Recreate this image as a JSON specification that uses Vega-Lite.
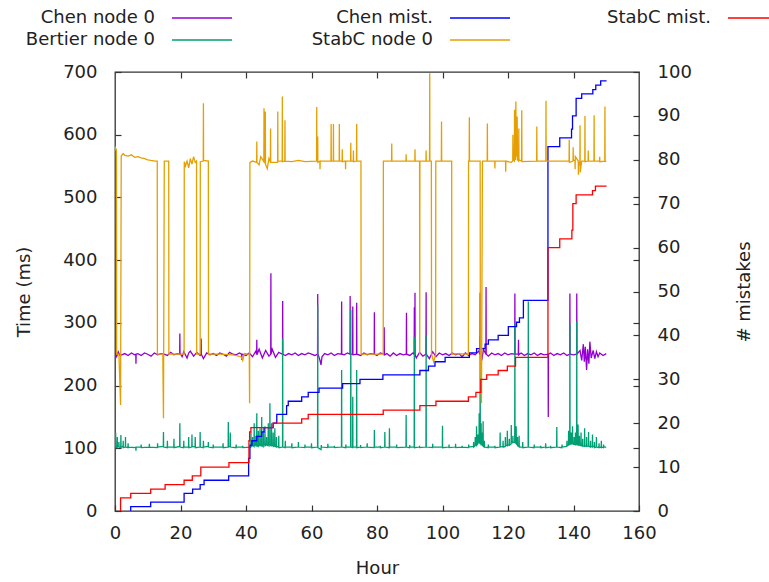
{
"$schema":"https://vega.github.io/schema/vega-lite/v6.json",
"autosize":{"type":"none"},
"padding":{"left":115,"top":72,"right":130,"bottom":71},
"width":524,"height":439,
"background":"white",
"config":{"font":"DejaVu Sans","view":{"stroke":"#333","strokeWidth":1.3},
"axis":{"labelFontSize":18,"titleFontSize":18,"labelColor":"#222","titleColor":"#222","titleFontWeight":"normal","tickColor":"#333","tickWidth":1.2,"domain":false,"grid":false,"tickSize":-6,"labelPadding":24,"labelFlush":false}},
"datasets":{
"chen":[{"h":0,"v":252},{"h":0.5,"v":246},{"h":1,"v":254},{"h":1.5,"v":248},{"h":2,"v":249},{"h":3,"v":251},{"h":4,"v":248},{"h":5,"v":252},{"h":6,"v":249},{"h":6.35,"v":250},{"h":6.4,"v":235},{"h":6.45,"v":250},{"h":7,"v":251},{"h":8,"v":248},{"h":9,"v":252},{"h":10,"v":250},{"h":11,"v":247},{"h":12,"v":252},{"h":13,"v":249},{"h":14,"v":251},{"h":15,"v":250},{"h":16,"v":248},{"h":17,"v":253},{"h":18,"v":249},{"h":19,"v":251},{"h":19.75,"v":250},{"h":19.8,"v":283},{"h":19.85,"v":252},{"h":20.5,"v":246},{"h":21,"v":254},{"h":22,"v":244},{"h":22.5,"v":252},{"h":23,"v":255},{"h":24,"v":247},{"h":25,"v":253},{"h":26,"v":248},{"h":26.25,"v":250},{"h":26.3,"v":275},{"h":26.35,"v":250},{"h":27,"v":243},{"h":28,"v":252},{"h":29,"v":249},{"h":30,"v":251},{"h":31,"v":248},{"h":32,"v":252},{"h":33,"v":250},{"h":34,"v":247},{"h":35,"v":253},{"h":36,"v":250},{"h":37,"v":249},{"h":38,"v":252},{"h":38.65,"v":250},{"h":38.7,"v":241},{"h":38.75,"v":250},{"h":40,"v":248},{"h":41,"v":252},{"h":42,"v":246},{"h":43,"v":255},{"h":43.25,"v":250},{"h":43.3,"v":273},{"h":43.35,"v":249},{"h":44,"v":258},{"h":45,"v":244},{"h":46,"v":256},{"h":47,"v":247},{"h":47.55,"v":250},{"h":47.6,"v":379},{"h":47.65,"v":250},{"h":48,"v":258},{"h":49,"v":245},{"h":50,"v":253},{"h":51.15,"v":250},{"h":51.2,"v":335},{"h":51.25,"v":250},{"h":52,"v":248},{"h":53,"v":251},{"h":54,"v":249},{"h":55,"v":252},{"h":56,"v":248},{"h":57,"v":251},{"h":58,"v":249},{"h":59,"v":252},{"h":60,"v":250},{"h":61,"v":248},{"h":61.85,"v":250},{"h":61.9,"v":346},{"h":61.95,"v":251},{"h":62.6,"v":240},{"h":62.9,"v":233},{"h":63.2,"v":246},{"h":64,"v":251},{"h":65,"v":249},{"h":66,"v":252},{"h":67,"v":248},{"h":68,"v":251},{"h":69.15,"v":250},{"h":69.2,"v":334},{"h":69.25,"v":250},{"h":70,"v":249},{"h":71,"v":252},{"h":71.75,"v":250},{"h":71.8,"v":343},{"h":71.85,"v":250},{"h":72.55,"v":250},{"h":72.6,"v":326},{"h":72.65,"v":249},{"h":73.75,"v":250},{"h":73.8,"v":332},{"h":73.85,"v":250},{"h":75,"v":248},{"h":76,"v":252},{"h":77,"v":249},{"h":78,"v":251},{"h":79.15,"v":250},{"h":79.2,"v":317},{"h":79.25,"v":250},{"h":80,"v":248},{"h":81,"v":252},{"h":82.15,"v":250},{"h":82.2,"v":293},{"h":82.25,"v":249},{"h":83,"v":251},{"h":84,"v":247},{"h":85,"v":252},{"h":86,"v":248},{"h":87,"v":251},{"h":88,"v":249},{"h":88.95,"v":250},{"h":89,"v":316},{"h":89.05,"v":250},{"h":90,"v":248},{"h":91,"v":252},{"h":91.35,"v":250},{"h":91.4,"v":325},{"h":91.45,"v":250},{"h":91.55,"v":250},{"h":91.6,"v":348},{"h":91.65,"v":249},{"h":92,"v":244},{"h":93,"v":253},{"h":94,"v":247},{"h":94.95,"v":250},{"h":95,"v":349},{"h":95.05,"v":250},{"h":96,"v":243},{"h":97,"v":254},{"h":98,"v":246},{"h":99,"v":252},{"h":100,"v":249},{"h":101,"v":251},{"h":102,"v":248},{"h":103,"v":252},{"h":104,"v":249},{"h":105,"v":251},{"h":106,"v":246},{"h":107,"v":252},{"h":108,"v":248},{"h":109,"v":251},{"h":110,"v":249},{"h":111,"v":255},{"h":111.45,"v":250},{"h":111.5,"v":348},{"h":111.55,"v":250},{"h":112,"v":240},{"h":112.5,"v":258},{"h":113.25,"v":250},{"h":113.3,"v":357},{"h":113.35,"v":250},{"h":114,"v":247},{"h":115,"v":252},{"h":116,"v":249},{"h":117,"v":251},{"h":118,"v":248},{"h":119,"v":252},{"h":120,"v":249},{"h":121,"v":251},{"h":122.05,"v":250},{"h":122.1,"v":347},{"h":122.15,"v":250},{"h":123.15,"v":250},{"h":123.2,"v":273},{"h":123.25,"v":249},{"h":124,"v":252},{"h":125,"v":248},{"h":126,"v":251},{"h":127,"v":249},{"h":128,"v":252},{"h":129,"v":248},{"h":130,"v":251},{"h":131,"v":249},{"h":132.25,"v":250},{"h":132.3,"v":150},{"h":132.35,"v":250},{"h":133,"v":252},{"h":134,"v":248},{"h":135,"v":251},{"h":136,"v":249},{"h":137,"v":252},{"h":138,"v":248},{"h":138.85,"v":250},{"h":138.9,"v":347},{"h":138.95,"v":250},{"h":140,"v":249},{"h":140.95,"v":250},{"h":141,"v":347},{"h":141.05,"v":250},{"h":142,"v":256},{"h":142.5,"v":240},{"h":143,"v":266},{"h":143.3,"v":238},{"h":143.6,"v":262},{"h":144,"v":225},{"h":144.3,"v":258},{"h":144.7,"v":235},{"h":145,"v":270},{"h":145.4,"v":244},{"h":146,"v":256},{"h":146.5,"v":243},{"h":147,"v":254},{"h":147.5,"v":246},{"h":148,"v":252},{"h":149,"v":248},{"h":150,"v":251}],
"bertier":[{"h":0,"v":102},{"h":0.2,"v":125},{"h":0.25,"v":102},{"h":0.65,"v":101},{"h":0.7,"v":118},{"h":0.75,"v":102},{"h":1.15,"v":103},{"h":1.2,"v":110},{"h":1.25,"v":102},{"h":1.75,"v":101},{"h":1.8,"v":121},{"h":1.85,"v":102},{"h":2.45,"v":103},{"h":2.5,"v":112},{"h":2.55,"v":101},{"h":3.15,"v":102},{"h":3.2,"v":118},{"h":3.25,"v":102},{"h":3.95,"v":101},{"h":4,"v":108},{"h":4.05,"v":102},{"h":6.35,"v":101},{"h":6.4,"v":96},{"h":6.45,"v":102},{"h":7.95,"v":102},{"h":8,"v":106},{"h":8.05,"v":101},{"h":10.45,"v":102},{"h":10.5,"v":107},{"h":10.55,"v":102},{"h":12.95,"v":101},{"h":13,"v":108},{"h":13.05,"v":102},{"h":14.75,"v":103},{"h":14.8,"v":126},{"h":14.85,"v":102},{"h":15.95,"v":101},{"h":16,"v":112},{"h":16.05,"v":102},{"h":17.95,"v":102},{"h":18,"v":115},{"h":18.05,"v":101},{"h":19.75,"v":103},{"h":19.8,"v":140},{"h":19.85,"v":102},{"h":20.95,"v":101},{"h":21,"v":112},{"h":21.05,"v":102},{"h":22.45,"v":102},{"h":22.5,"v":118},{"h":22.55,"v":101},{"h":23.45,"v":102},{"h":23.5,"v":122},{"h":23.55,"v":103},{"h":24.45,"v":102},{"h":24.5,"v":118},{"h":24.55,"v":101},{"h":25.95,"v":102},{"h":26,"v":126},{"h":26.05,"v":102},{"h":26.95,"v":101},{"h":27,"v":112},{"h":27.05,"v":102},{"h":28.45,"v":103},{"h":28.5,"v":110},{"h":28.55,"v":102},{"h":29.95,"v":101},{"h":30,"v":106},{"h":30.05,"v":102},{"h":32.95,"v":102},{"h":33,"v":108},{"h":33.05,"v":101},{"h":34.55,"v":102},{"h":34.6,"v":142},{"h":34.65,"v":102},{"h":35.15,"v":103},{"h":35.2,"v":125},{"h":35.25,"v":102},{"h":36.95,"v":101},{"h":37,"v":106},{"h":37.05,"v":102},{"h":38.95,"v":102},{"h":39,"v":104},{"h":39.05,"v":101},{"h":41.45,"v":102},{"h":41.5,"v":125},{"h":41.55,"v":103},{"h":41.95,"v":104},{"h":42,"v":118},{"h":42.05,"v":105},{"h":42.45,"v":103},{"h":42.5,"v":140},{"h":42.55,"v":104},{"h":42.95,"v":106},{"h":43,"v":120},{"h":43.05,"v":103},{"h":43.25,"v":105},{"h":43.3,"v":156},{"h":43.35,"v":104},{"h":43.75,"v":103},{"h":43.8,"v":128},{"h":43.85,"v":105},{"h":44.25,"v":104},{"h":44.3,"v":132},{"h":44.35,"v":106},{"h":44.75,"v":104},{"h":44.8,"v":150},{"h":44.85,"v":105},{"h":45.25,"v":103},{"h":45.3,"v":125},{"h":45.35,"v":106},{"h":45.75,"v":105},{"h":45.8,"v":135},{"h":45.85,"v":104},{"h":46.25,"v":106},{"h":46.3,"v":118},{"h":46.35,"v":105},{"h":46.75,"v":104},{"h":46.8,"v":140},{"h":46.85,"v":106},{"h":47.25,"v":105},{"h":47.3,"v":172},{"h":47.35,"v":104},{"h":47.75,"v":106},{"h":47.8,"v":140},{"h":47.85,"v":104},{"h":48.25,"v":105},{"h":48.3,"v":125},{"h":48.35,"v":103},{"h":48.75,"v":104},{"h":48.8,"v":132},{"h":48.85,"v":103},{"h":49.25,"v":102},{"h":49.3,"v":118},{"h":49.35,"v":103},{"h":49.95,"v":102},{"h":50,"v":120},{"h":50.05,"v":101},{"h":51.15,"v":102},{"h":51.2,"v":275},{"h":51.25,"v":102},{"h":51.95,"v":101},{"h":52,"v":112},{"h":52.05,"v":102},{"h":53.95,"v":102},{"h":54,"v":108},{"h":54.05,"v":101},{"h":55.95,"v":102},{"h":56,"v":110},{"h":56.05,"v":102},{"h":57.95,"v":101},{"h":58,"v":106},{"h":58.05,"v":102},{"h":59.95,"v":102},{"h":60,"v":108},{"h":60.05,"v":101},{"h":61.85,"v":102},{"h":61.9,"v":329},{"h":61.95,"v":101},{"h":62.9,"v":98},{"h":62.95,"v":102},{"h":63,"v":105},{"h":63.05,"v":102},{"h":64.95,"v":101},{"h":65,"v":107},{"h":65.05,"v":102},{"h":66.95,"v":102},{"h":67,"v":104},{"h":67.05,"v":101},{"h":69.15,"v":102},{"h":69.2,"v":225},{"h":69.25,"v":102},{"h":70.45,"v":101},{"h":70.5,"v":106},{"h":70.55,"v":102},{"h":71.95,"v":102},{"h":72,"v":321},{"h":72.05,"v":102},{"h":72.55,"v":101},{"h":72.6,"v":182},{"h":72.65,"v":102},{"h":73.75,"v":102},{"h":73.8,"v":225},{"h":73.85,"v":101},{"h":74.95,"v":102},{"h":75,"v":105},{"h":75.05,"v":101},{"h":76.95,"v":102},{"h":77,"v":108},{"h":77.05,"v":102},{"h":79.15,"v":101},{"h":79.2,"v":129},{"h":79.25,"v":102},{"h":80.95,"v":102},{"h":81,"v":104},{"h":81.05,"v":101},{"h":82.35,"v":102},{"h":82.4,"v":126},{"h":82.45,"v":102},{"h":83.75,"v":101},{"h":83.8,"v":132},{"h":83.85,"v":102},{"h":85.95,"v":102},{"h":86,"v":106},{"h":86.05,"v":101},{"h":88.85,"v":102},{"h":88.9,"v":153},{"h":88.95,"v":102},{"h":89.95,"v":101},{"h":90,"v":105},{"h":90.05,"v":102},{"h":91.35,"v":102},{"h":91.4,"v":278},{"h":91.45,"v":101},{"h":92.95,"v":102},{"h":93,"v":104},{"h":93.05,"v":101},{"h":94.95,"v":102},{"h":95,"v":281},{"h":95.05,"v":102},{"h":96.95,"v":101},{"h":97,"v":107},{"h":97.05,"v":102},{"h":99.95,"v":102},{"h":100,"v":136},{"h":100.05,"v":101},{"h":101.95,"v":102},{"h":102,"v":106},{"h":102.05,"v":101},{"h":103.95,"v":102},{"h":104,"v":107},{"h":104.05,"v":101},{"h":105.95,"v":102},{"h":106,"v":104},{"h":106.05,"v":102},{"h":107.95,"v":101},{"h":108,"v":106},{"h":108.05,"v":102},{"h":109.45,"v":103},{"h":109.5,"v":110},{"h":109.55,"v":102},{"h":109.95,"v":104},{"h":110,"v":118},{"h":110.05,"v":105},{"h":110.35,"v":106},{"h":110.4,"v":135},{"h":110.45,"v":105},{"h":110.75,"v":107},{"h":110.8,"v":122},{"h":110.85,"v":108},{"h":111.15,"v":110},{"h":111.2,"v":156},{"h":111.25,"v":109},{"h":111.45,"v":108},{"h":111.5,"v":278},{"h":111.55,"v":110},{"h":111.75,"v":108},{"h":111.8,"v":140},{"h":111.85,"v":106},{"h":112.05,"v":107},{"h":112.1,"v":125},{"h":112.15,"v":105},{"h":112.35,"v":104},{"h":112.4,"v":143},{"h":112.45,"v":103},{"h":112.75,"v":102},{"h":112.8,"v":112},{"h":112.85,"v":102},{"h":113.95,"v":101},{"h":114,"v":106},{"h":114.05,"v":102},{"h":115.95,"v":102},{"h":116,"v":104},{"h":116.05,"v":101},{"h":117.55,"v":102},{"h":117.6,"v":125},{"h":117.65,"v":102},{"h":118.45,"v":103},{"h":118.5,"v":112},{"h":118.55,"v":102},{"h":119.15,"v":103},{"h":119.2,"v":118},{"h":119.25,"v":104},{"h":119.75,"v":105},{"h":119.8,"v":128},{"h":119.85,"v":104},{"h":120.35,"v":106},{"h":120.4,"v":115},{"h":120.45,"v":105},{"h":120.95,"v":107},{"h":121,"v":137},{"h":121.05,"v":108},{"h":121.45,"v":109},{"h":121.5,"v":120},{"h":121.55,"v":110},{"h":122.05,"v":109},{"h":122.1,"v":299},{"h":122.15,"v":110},{"h":122.45,"v":108},{"h":122.5,"v":135},{"h":122.55,"v":107},{"h":122.85,"v":105},{"h":122.9,"v":118},{"h":122.95,"v":104},{"h":123.35,"v":103},{"h":123.4,"v":120},{"h":123.45,"v":102},{"h":124.45,"v":102},{"h":124.5,"v":110},{"h":124.55,"v":101},{"h":126.15,"v":102},{"h":126.2,"v":334},{"h":126.25,"v":102},{"h":127.95,"v":101},{"h":128,"v":106},{"h":128.05,"v":102},{"h":129.95,"v":102},{"h":130,"v":104},{"h":130.05,"v":101},{"h":131.45,"v":102},{"h":131.5,"v":108},{"h":131.55,"v":101},{"h":132.95,"v":102},{"h":133,"v":104},{"h":133.05,"v":101},{"h":134.85,"v":102},{"h":134.9,"v":134},{"h":134.95,"v":102},{"h":136.45,"v":101},{"h":136.5,"v":106},{"h":136.55,"v":102},{"h":137.95,"v":103},{"h":138,"v":112},{"h":138.05,"v":104},{"h":138.45,"v":105},{"h":138.5,"v":128},{"h":138.55,"v":106},{"h":138.85,"v":106},{"h":138.9,"v":299},{"h":138.95,"v":107},{"h":139.25,"v":108},{"h":139.3,"v":125},{"h":139.35,"v":107},{"h":139.65,"v":108},{"h":139.7,"v":135},{"h":139.75,"v":107},{"h":140.15,"v":106},{"h":140.2,"v":118},{"h":140.25,"v":107},{"h":140.55,"v":106},{"h":140.6,"v":125},{"h":140.65,"v":107},{"h":140.95,"v":106},{"h":141,"v":302},{"h":141.05,"v":107},{"h":141.35,"v":106},{"h":141.4,"v":138},{"h":141.45,"v":105},{"h":141.75,"v":106},{"h":141.8,"v":120},{"h":141.85,"v":105},{"h":142.25,"v":104},{"h":142.3,"v":125},{"h":142.35,"v":105},{"h":142.75,"v":104},{"h":142.8,"v":115},{"h":142.85,"v":103},{"h":143.35,"v":104},{"h":143.4,"v":132},{"h":143.45,"v":103},{"h":143.95,"v":104},{"h":144,"v":118},{"h":144.05,"v":103},{"h":144.55,"v":104},{"h":144.6,"v":126},{"h":144.65,"v":103},{"h":145.15,"v":102},{"h":145.2,"v":112},{"h":145.25,"v":103},{"h":145.75,"v":102},{"h":145.8,"v":122},{"h":145.85,"v":103},{"h":146.35,"v":102},{"h":146.4,"v":110},{"h":146.45,"v":101},{"h":146.95,"v":102},{"h":147,"v":118},{"h":147.05,"v":102},{"h":147.75,"v":101},{"h":147.8,"v":108},{"h":147.85,"v":102},{"h":148.45,"v":101},{"h":148.5,"v":112},{"h":148.55,"v":102},{"h":149.15,"v":101},{"h":149.2,"v":106},{"h":149.25,"v":102},{"h":150,"v":102}],
"stabc":[{"h":0,"v":582},{"h":0.2,"v":575},{"h":0.4,"v":578},{"h":0.45,"v":560},{"h":0.5,"v":250},{"h":1.2,"v":250},{"h":1.7,"v":169},{"h":1.9,"v":566},{"h":2.5,"v":570},{"h":3,"v":567},{"h":4,"v":566},{"h":5,"v":568},{"h":6,"v":564},{"h":7,"v":565},{"h":8,"v":563},{"h":9,"v":562},{"h":10,"v":560},{"h":11,"v":559},{"h":12.2,"v":558},{"h":12.9,"v":558},{"h":12.95,"v":250},{"h":14.6,"v":250},{"h":14.8,"v":148},{"h":15.05,"v":558},{"h":16.4,"v":558},{"h":16.45,"v":250},{"h":21.1,"v":250},{"h":21.15,"v":557},{"h":21.5,"v":550},{"h":22,"v":558},{"h":22.5,"v":547},{"h":23,"v":562},{"h":23.5,"v":553},{"h":24,"v":565},{"h":24.5,"v":556},{"h":24.9,"v":558},{"h":24.95,"v":250},{"h":26,"v":250},{"h":26.05,"v":557},{"h":26.95,"v":558},{"h":27,"v":650},{"h":27.05,"v":559},{"h":28.5,"v":558},{"h":28.55,"v":250},{"h":32,"v":250},{"h":36,"v":249},{"h":38.5,"v":246},{"h":39,"v":240},{"h":39.5,"v":251},{"h":41,"v":250},{"h":41.1,"v":172},{"h":41.2,"v":556},{"h":42,"v":558},{"h":43.25,"v":556},{"h":43.3,"v":589},{"h":43.35,"v":556},{"h":44,"v":552},{"h":44.5,"v":565},{"h":45.45,"v":557},{"h":45.5,"v":642},{"h":45.55,"v":557},{"h":45.85,"v":556},{"h":45.9,"v":637},{"h":45.95,"v":553},{"h":46.5,"v":546},{"h":47,"v":562},{"h":47.45,"v":556},{"h":47.5,"v":610},{"h":47.55,"v":556},{"h":49.65,"v":556},{"h":49.7,"v":637},{"h":49.75,"v":558},{"h":51.05,"v":558},{"h":51.1,"v":661},{"h":51.15,"v":557},{"h":51.85,"v":558},{"h":51.9,"v":623},{"h":51.95,"v":558},{"h":54,"v":557},{"h":56,"v":559},{"h":58,"v":557},{"h":61.55,"v":558},{"h":61.6,"v":644},{"h":61.65,"v":558},{"h":61.85,"v":558},{"h":61.9,"v":597},{"h":61.95,"v":556},{"h":62.55,"v":558},{"h":62.6,"v":545},{"h":62.65,"v":558},{"h":65.95,"v":558},{"h":66,"v":617},{"h":66.05,"v":558},{"h":66.65,"v":558},{"h":66.7,"v":617},{"h":66.75,"v":558},{"h":68.45,"v":558},{"h":68.5,"v":617},{"h":68.55,"v":558},{"h":69.35,"v":558},{"h":69.4,"v":577},{"h":69.45,"v":557},{"h":70.35,"v":558},{"h":70.4,"v":545},{"h":70.45,"v":558},{"h":71.95,"v":558},{"h":72,"v":587},{"h":72.05,"v":558},{"h":72.75,"v":558},{"h":72.8,"v":575},{"h":72.85,"v":557},{"h":73.75,"v":558},{"h":73.8,"v":617},{"h":73.85,"v":558},{"h":75.1,"v":558},{"h":75.15,"v":250},{"h":81.9,"v":250},{"h":81.95,"v":558},{"h":84.45,"v":558},{"h":84.5,"v":586},{"h":84.55,"v":558},{"h":88.85,"v":558},{"h":88.9,"v":569},{"h":88.95,"v":558},{"h":91.55,"v":558},{"h":91.6,"v":577},{"h":91.65,"v":558},{"h":93,"v":558},{"h":93.05,"v":250},{"h":93.1,"v":558},{"h":94.95,"v":558},{"h":95,"v":575},{"h":95.05,"v":558},{"h":96.05,"v":558},{"h":96.1,"v":698},{"h":96.15,"v":558},{"h":96.6,"v":558},{"h":96.65,"v":250},{"h":97.3,"v":238},{"h":97.9,"v":250},{"h":97.95,"v":558},{"h":99.65,"v":558},{"h":99.7,"v":621},{"h":99.75,"v":558},{"h":102.8,"v":558},{"h":102.85,"v":250},{"h":105,"v":251},{"h":107.9,"v":250},{"h":107.95,"v":558},{"h":108.15,"v":558},{"h":108.2,"v":628},{"h":108.25,"v":558},{"h":111.5,"v":558},{"h":111.55,"v":250},{"h":111.9,"v":172},{"h":112.2,"v":558},{"h":113.65,"v":558},{"h":113.7,"v":618},{"h":113.75,"v":558},{"h":115.95,"v":558},{"h":116,"v":546},{"h":116.05,"v":558},{"h":119.25,"v":558},{"h":119.3,"v":541},{"h":119.35,"v":558},{"h":121,"v":556},{"h":121.45,"v":558},{"h":121.5,"v":600},{"h":121.6,"v":560},{"h":121.95,"v":558},{"h":122,"v":640},{"h":122.1,"v":565},{"h":122.3,"v":560},{"h":122.4,"v":653},{"h":122.5,"v":575},{"h":122.7,"v":565},{"h":122.8,"v":629},{"h":122.9,"v":560},{"h":123.25,"v":558},{"h":123.3,"v":610},{"h":123.35,"v":560},{"h":124.15,"v":558},{"h":124.2,"v":639},{"h":124.25,"v":557},{"h":128.75,"v":558},{"h":128.8,"v":613},{"h":128.85,"v":558},{"h":131.55,"v":558},{"h":131.6,"v":654},{"h":131.65,"v":558},{"h":138.65,"v":558},{"h":138.7,"v":592},{"h":138.75,"v":556},{"h":139.85,"v":558},{"h":139.9,"v":580},{"h":139.95,"v":560},{"h":140.45,"v":558},{"h":140.5,"v":545},{"h":140.55,"v":565},{"h":141.45,"v":558},{"h":141.5,"v":536},{"h":141.55,"v":550},{"h":141.95,"v":558},{"h":142,"v":615},{"h":142.05,"v":540},{"h":142.5,"v":558},{"h":143.45,"v":558},{"h":143.5,"v":630},{"h":143.55,"v":557},{"h":144.45,"v":558},{"h":144.5,"v":575},{"h":144.55,"v":558},{"h":146.25,"v":558},{"h":146.3,"v":631},{"h":146.35,"v":558},{"h":147.95,"v":558},{"h":148,"v":565},{"h":148.05,"v":557},{"h":149.55,"v":558},{"h":149.6,"v":645},{"h":149.65,"v":558},{"h":150,"v":557}],
"chenm":[{"h":4.79,"v":0},{"h":4.8,"v":1},{"h":10.9,"v":2},{"h":21.1,"v":4},{"h":23.7,"v":5},{"h":26,"v":6},{"h":27.2,"v":7},{"h":34.7,"v":8},{"h":40.8,"v":12},{"h":41.2,"v":15},{"h":41.8,"v":16},{"h":43.3,"v":17},{"h":44.8,"v":18},{"h":45.5,"v":19},{"h":48.3,"v":20},{"h":49.4,"v":22},{"h":52.4,"v":24},{"h":52.9,"v":25},{"h":57,"v":26},{"h":59,"v":27},{"h":62.3,"v":28},{"h":69.5,"v":29},{"h":74.8,"v":30},{"h":81.8,"v":31},{"h":93.1,"v":32},{"h":95.7,"v":33},{"h":97.7,"v":34},{"h":100.8,"v":35},{"h":108.2,"v":36},{"h":110.4,"v":37},{"h":113,"v":38},{"h":114,"v":39},{"h":117,"v":40},{"h":120.1,"v":42},{"h":122.6,"v":43},{"h":123.5,"v":44},{"h":124.7,"v":48},{"h":132.2,"v":83},{"h":135.8,"v":85},{"h":139.4,"v":87},{"h":139.7,"v":90},{"h":140.8,"v":94},{"h":142.5,"v":95},{"h":145.9,"v":96},{"h":146.8,"v":97},{"h":148.3,"v":98},{"h":150.1,"v":98}],
"stabcm":[{"h":1.69,"v":0},{"h":1.7,"v":3},{"h":4.8,"v":4},{"h":10.9,"v":5},{"h":15.3,"v":6},{"h":21.1,"v":7},{"h":23.6,"v":8},{"h":26.2,"v":10},{"h":34.8,"v":11},{"h":40.9,"v":16},{"h":41.1,"v":18},{"h":41.5,"v":19},{"h":48.3,"v":20},{"h":57,"v":21},{"h":59,"v":22},{"h":81.9,"v":23},{"h":93.1,"v":24},{"h":98,"v":25},{"h":107.9,"v":26},{"h":110.2,"v":27},{"h":111.7,"v":30},{"h":113.5,"v":31},{"h":117,"v":32},{"h":119.8,"v":33},{"h":122.3,"v":35},{"h":132.2,"v":60},{"h":135.8,"v":62},{"h":139.5,"v":64},{"h":139.8,"v":70},{"h":140.8,"v":72},{"h":145.8,"v":73},{"h":146.7,"v":74},{"h":150.1,"v":74}]
},
"layer":[
{"encoding":{
 "x":{"field":"h","type":"quantitative","scale":{"domain":[0,160],"nice":false},"axis":{"orient":"bottom","values":[0,20,40,60,80,100,120,140,160],"title":"Hour","labelPadding":19,"titlePadding":17}},
 "y":{"field":"v","type":"quantitative","scale":{"domain":[0,700],"nice":false},"axis":{"orient":"left","values":[0,100,200,300,400,500,600,700],"title":"Time (ms)","titlePadding":29}}},
 "layer":[
 {"data":{"name":"chen"},"mark":{"type":"line","strokeWidth":1.3,"clip":true},"encoding":{"color":{"datum":"Chen node 0","type":"nominal","scale":{"domain":["Chen node 0","Chen mist.","StabC mist.","Bertier node 0","StabC node 0"],"range":["#9400D3","#0000FF","#FF0000","#009E73","#E69F00"]},
   "legend":{"orient":"none","legendX":76,"legendY":-65,"direction":"horizontal","columns":3,"symbolType":"M-3,0H3","symbolSize":400,"symbolStrokeWidth":1.4,"labelFontSize":18,"labelColor":"#222","labelAlign":"right","labelOffset":-58,"gridAlign":"all","columnPadding":76,"rowPadding":2,"title":null,"labelLimit":300}}}},
 {"data":{"name":"bertier"},"mark":{"type":"line","strokeWidth":1.3,"clip":true},"encoding":{"color":{"datum":"Bertier node 0","type":"nominal"}}}
 ]},
{"encoding":{
 "x":{"field":"h","type":"quantitative","scale":{"domain":[0,160],"nice":false},"axis":null},
 "y":{"field":"v","type":"quantitative","scale":{"domain":[0,100],"nice":false},"axis":{"orient":"right","values":[0,10,20,30,40,50,60,70,80,90,100],"title":"# mistakes","titleAngle":270,"titlePadding":62}}},
 "layer":[
 {"data":{"name":"chenm"},"mark":{"type":"line","strokeWidth":1.3,"interpolate":"step-after","clip":true},"encoding":{"color":{"datum":"Chen mist.","type":"nominal"}}}
 ]},
{"encoding":{
 "x":{"field":"h","type":"quantitative","scale":{"domain":[0,160],"nice":false},"axis":null},
 "y":{"field":"v","type":"quantitative","scale":{"domain":[0,700],"nice":false},"axis":null}},
 "layer":[
 {"data":{"name":"stabc"},"mark":{"type":"line","strokeWidth":1.3,"clip":true},"encoding":{"color":{"datum":"StabC node 0","type":"nominal"}}}
 ]},
{"encoding":{
 "x":{"field":"h","type":"quantitative","scale":{"domain":[0,160],"nice":false},"axis":null},
 "y":{"field":"v","type":"quantitative","scale":{"domain":[0,100],"nice":false},"axis":null}},
 "layer":[
 {"data":{"name":"stabcm"},"mark":{"type":"line","strokeWidth":1.3,"interpolate":"step-after","clip":true},"encoding":{"color":{"datum":"StabC mist.","type":"nominal"}}}
 ]},
{"data":{"values":[{"h":0,"v":0}]},"mark":{"type":"point","opacity":0},
 "encoding":{
 "x":{"field":"h","type":"quantitative","scale":{"domain":[0,160],"nice":false},"axis":{"orient":"top","values":[20,40,60,80,100,120,140],"labels":false,"title":null}},
 "y":{"field":"v","type":"quantitative","scale":{"domain":[0,700],"nice":false},"axis":{"orient":"right","values":[100,200,300,400,500,600],"labels":false,"title":null}}}}
],
"resolve":{"scale":{"y":"independent"},"axis":{"x":"independent","y":"independent"}}
}
